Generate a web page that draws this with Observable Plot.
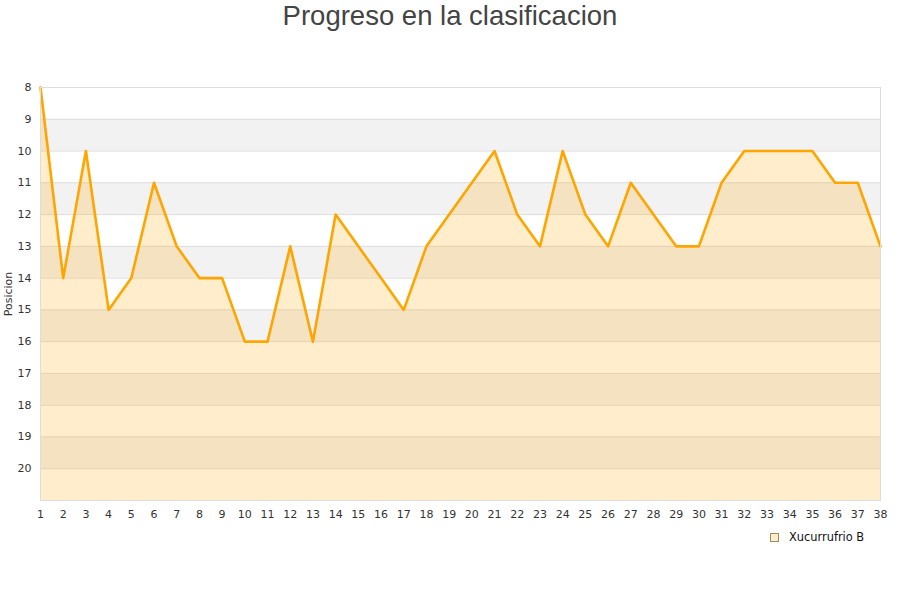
<!DOCTYPE html>
<html>
<head>
<meta charset="utf-8">
<script src="https://cdn.jsdelivr.net/npm/d3@7"></script>
<script src="https://cdn.jsdelivr.net/npm/@observablehq/plot@0.6"></script>
<style>
  html, body { margin: 0; padding: 0; background: #fff; }
  #wrap { position: relative; width: 900px; height: 600px; }
  #title { position: absolute; left: 0; top: 0; width: 900px; text-align: center;
    font-family: "Liberation Sans", Arial, sans-serif; font-size: 27.5px; color: #444; line-height: 32px; }
  #legend { position: absolute; left: 770px; top: 530px; font-family: "DejaVu Sans", sans-serif;
    font-size: 11.4px; color: #111; display: flex; align-items: center; }
  #legend .sw { width: 7px; height: 7px; background: #ffecc8; border: 1px solid #a08a60; margin-right: 10px; }
</style>
</head>
<body>
<div id="wrap">
  <div id="title">Progreso en la clasificacion</div>
  <div id="chart"></div>
  <div id="legend"><span class="sw"></span><span>Xucurrufrio B</span></div>
</div>
<script>
const jornadas = d3.range(1, 39);
const posiciones = [8,14,10,15,14,11,13,14,14,16,16,13,16,12,13,14,15,13,12,11,10,12,13,10,12,13,11,12,13,13,11,10,10,10,10,11,11,13];
const bandStarts = [9, 11, 13, 15, 17, 19];
const yTicks = d3.range(8, 21);
const teamName = "Xucurrufrio B";

const data = jornadas.map((j, i) => ({jornada: j, pos: posiciones[i]}));
const bands = bandStarts.map(b => ({y1: b, y2: b + 1}));

const chart = Plot.plot({
  width: 900,
  height: 600,
  marginTop: 87,
  marginBottom: 100,
  marginLeft: 40,
  marginRight: 20,
  style: {fontFamily: "DejaVu Sans, sans-serif", fontSize: "11px", color: "#333", background: "transparent"},
  x: {domain: [1, 38]},
  y: {domain: [8, 21], reverse: true},
  marks: [
    Plot.rect(bands, {x1: 1, x2: 38, y1: "y1", y2: "y2", fill: "#f2f2f2"}),
    Plot.gridY(yTicks, {stroke: "#ddd", strokeOpacity: 1, strokeWidth: 1}),
    Plot.areaY(data, {x: "jornada", y1: 21, y2: "pos", fill: "#ffa500", fillOpacity: 0.2}),
    Plot.lineY(data, {x: "jornada", y: "pos", stroke: "#ffa500", strokeWidth: 2.6}),
    Plot.frame({stroke: "#ddd"}),
    Plot.axisX(jornadas, {tickSize: 0, tickPadding: 10, label: null, fill: "#333"}),
    Plot.axisY(yTicks, {tickSize: 0, tickPadding: 9, label: "Posicion", labelAnchor: "center", labelArrow: "none", labelOffset: 36, fill: "#333"})
  ]
});
document.getElementById("chart").appendChild(chart);
</script>
</body>
</html>
